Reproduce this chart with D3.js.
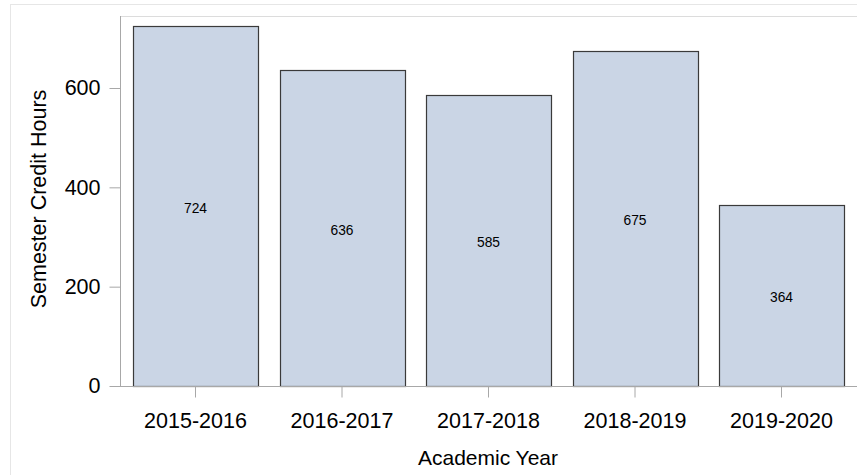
<!DOCTYPE html>
<html>
<head>
<meta charset="utf-8">
<script src="https://cdn.jsdelivr.net/npm/d3@7"></script>
<style>
  body { margin: 0; background: #fff; }
  text { font-family: "Liberation Sans", Arial, sans-serif; fill: #000; }
</style>
</head>
<body>
<div id="chart"></div>
<script>
// data
var years = ["2015-2016", "2016-2017", "2017-2018", "2018-2019", "2019-2020"];
var hours = [724, 636, 585, 675, 364];
var yTicks = [0, 200, 400, 600];

var width = 857,
    height = 475;

var plot = { left: 120, top: 16, right: 857, bottom: 386 };

var svg = d3.select("#chart")
    .append("svg")
    .attr("width", width)
    .attr("height", height);

// outer graph border (runs off the right / bottom of the picture)
svg.append("rect")
    .attr("x", 10.5).attr("y", 4.5)
    .attr("width", width).attr("height", height)
    .style("fill", "none")
    .style("stroke", "#e6e6e6");

// plot frame top line
svg.append("line")
    .attr("x1", plot.left).attr("x2", width)
    .attr("y1", plot.top + 0.5).attr("y2", plot.top + 0.5)
    .style("stroke", "#dcdcdc");

var x = d3.scaleBand()
    .domain(years)
    .range([122.25, 854.75])
    .paddingInner(0.147)
    .paddingOuter(0.0735);

// 600 units ~ 298px
var y = d3.scaleLinear()
    .domain([0, 745])
    .range([plot.bottom, plot.bottom - 745 * 298 / 600]);

//Bars
svg.append("g")
    .selectAll("rect")
    .data(hours)
    .enter().append("rect")
    .attr("x", function(d, i) { return Math.round(x(years[i])) + 0.5; })
    .attr("y", function(d) { return Math.round(y(d)) + 0.5; })
    .attr("width", Math.round(x.bandwidth()))
    .attr("height", function(d) { return Math.round(y(0)) - Math.round(y(d)); })
    .style("fill", "#cad5e5")
    .style("stroke", "#3a3a3a")
    .style("stroke-width", 1.2);

//Value labels in the middle of each bar
svg.append("g")
    .selectAll("text")
    .data(hours)
    .enter().append("text")
    .attr("x", function(d, i) { return x(years[i]) + x.bandwidth() / 2; })
    .attr("y", function(d) { return (y(d) + y(0)) / 2 + 2; })
    .attr("text-anchor", "middle")
    .attr("dominant-baseline", "central")
    .style("font-size", "13.8px")
    .text(function(d) { return d; });

//Y axis
var yAxis = d3.axisLeft(y)
    .tickValues(yTicks)
    .tickSize(11)
    .tickPadding(9);

var gy = svg.append("g")
    .attr("transform", "translate(" + (plot.left + 0.5) + ",0)")
    .call(yAxis);
gy.select(".domain")
    .attr("d", "M0," + plot.top + "V" + (plot.bottom + 0.5));

//X axis
var xAxis = d3.axisBottom(x)
    .tickSize(11)
    .tickPadding(15);

var gx = svg.append("g")
    .attr("transform", "translate(0," + (plot.bottom + 0.5) + ")")
    .call(xAxis);
gx.select(".domain")
    .attr("d", "M" + plot.left + ",0H" + width);

svg.selectAll(".domain, .tick line")
    .style("stroke", "#a8a8a8");
svg.selectAll(".tick text")
    .style("font-family", "'Liberation Sans', Arial, sans-serif")
    .style("font-size", "21.5px")
    .style("fill", "#000");

//Axis titles
svg.append("text")
    .attr("x", 488)
    .attr("y", 465)
    .attr("text-anchor", "middle")
    .style("font-size", "21px")
    .text("Academic Year");

svg.append("text")
    .attr("transform", "translate(46," + ((plot.top + plot.bottom) / 2 - 2) + ") rotate(-90)")
    .attr("text-anchor", "middle")
    .style("font-size", "21.5px")
    .text("Semester Credit Hours");
</script>
</body>
</html>
